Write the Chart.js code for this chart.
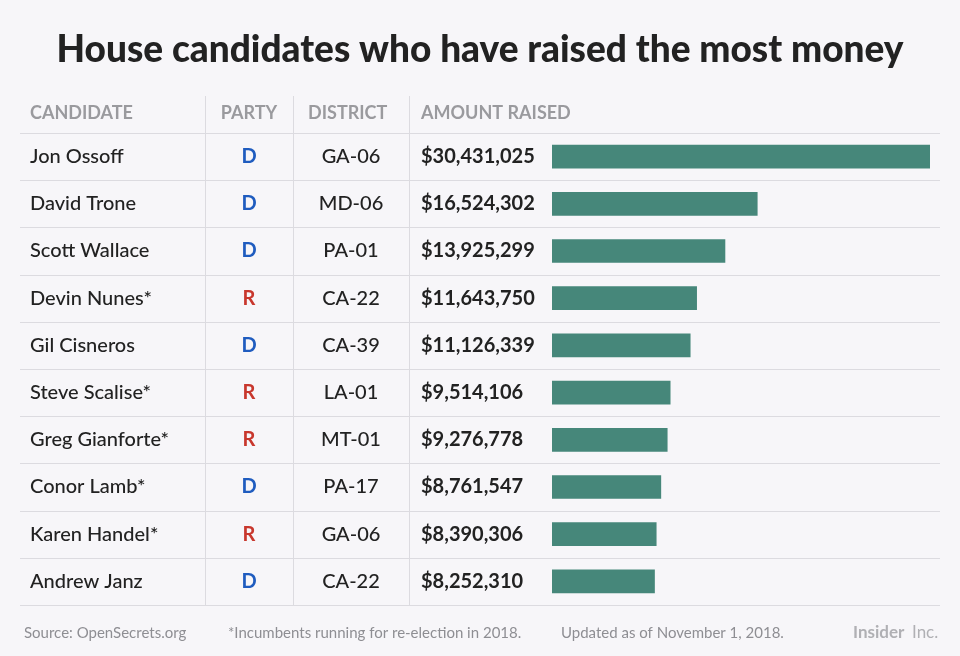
<!DOCTYPE html>
<html><head><meta charset="utf-8">
<script src="https://cdn.jsdelivr.net/npm/chart.js@4"></script>
<style>body{margin:0;background:#f7f6f9}canvas{display:block}</style>
</head><body>
<div style="width:960px;height:656px"><canvas id="chart"></canvas></div>
<script>
// data
const candidates = ["Jon Ossoff","David Trone","Scott Wallace","Devin Nunes*","Gil Cisneros","Steve Scalise*","Greg Gianforte*","Conor Lamb*","Karen Handel*","Andrew Janz"],
  parties = ["D","D","D","R","D","R","R","D","R","D"],
  districts = ["GA-06","MD-06","PA-01","CA-22","CA-39","LA-01","MT-01","PA-17","GA-06","CA-22"],
  amounts = [30431025,16524302,13925299,11643750,11126339,9514106,9276778,8761547,8390306,8252310];

const fmt = (n) => "$" + n.toLocaleString("en-US");
const FONT = "Lato, 'Open Sans', sans-serif";

const tablePlugin = {
  id: "table",
  beforeDraw(chart) {
    const ctx = chart.ctx, top = chart.chartArea.top, bottom = chart.chartArea.bottom;
    ctx.save();
    ctx.fillStyle = "#f7f6f9";
    ctx.fillRect(0, 0, chart.width, chart.height);
    ctx.strokeStyle = "#dcdbe0";
    ctx.lineWidth = 1;
    const step = (bottom - top) / candidates.length;
    for (let i = 0; i <= candidates.length; i++) {
      const ly = Math.round(top + i * step) + 0.5;
      ctx.beginPath(); ctx.moveTo(20, ly); ctx.lineTo(940, ly); ctx.stroke();
    }
    [205, 293, 409].forEach((x) => {
      ctx.beginPath(); ctx.moveTo(x + 0.5, 96); ctx.lineTo(x + 0.5, bottom); ctx.stroke();
    });
    ctx.restore();
  },
  afterDraw(chart) {
    const ctx = chart.ctx, y = chart.scales.y;
    ctx.save();
    ctx.textBaseline = "middle";
    ctx.fillStyle = "#222";
    ctx.textAlign = "center";
    ctx.font = "900 37px " + FONT;
    ctx.fillText("House candidates who have raised the most money", 480, 50);
    ctx.font = "bold 18px " + FONT;
    ctx.fillStyle = "#9a9a9e";
    ctx.textAlign = "left";
    ctx.fillText("CANDIDATE", 30, 113);
    ctx.fillText("DISTRICT", 308, 113);
    ctx.fillText("AMOUNT RAISED", 421, 113);
    ctx.textAlign = "center";
    ctx.fillText("PARTY", 249, 113);
    candidates.forEach((c, i) => {
      const cy = y.getPixelForValue(i);
      ctx.fillStyle = "#222";
      ctx.textAlign = "left";
      ctx.font = "500 20px " + FONT;
      ctx.fillText(c, 30, cy);
      ctx.font = "bold 20px " + FONT;
      ctx.fillText(fmt(amounts[i]), 421, cy);
      ctx.textAlign = "center";
      ctx.font = "500 20px " + FONT;
      ctx.fillText(districts[i], 351, cy);
      ctx.font = "bold 20px " + FONT;
      ctx.fillStyle = parties[i] === "D" ? "#1f5cbf" : "#c8372d";
      ctx.fillText(parties[i], 249, cy);
    });
    ctx.font = "15px " + FONT;
    ctx.fillStyle = "#8e8e93";
    ctx.textAlign = "left";
    ctx.fillText("Source: OpenSecrets.org", 24, 633);
    ctx.fillText("*Incumbents running for re-election in 2018.", 228, 633);
    ctx.fillText("Updated as of November 1, 2018.", 561, 633);
    ctx.font = "bold 17px " + FONT;
    ctx.fillStyle = "#b0b0b4";
    ctx.fillText("Insider", 853, 633);
    ctx.font = "17px " + FONT;
    ctx.fillText("Inc.", 912, 633);
    ctx.restore();
  }
};

new Chart(document.getElementById("chart"), {
  type: "bar",
  data: {
    labels: candidates,
    datasets: [{ data: amounts, backgroundColor: "#46877a", barThickness: 23, borderWidth: 0 }]
  },
  options: {
    indexAxis: "y",
    responsive: true,
    maintainAspectRatio: false,
    animation: false,
    layout: { padding: { left: 552, right: 30, top: 133, bottom: 51 } },
    plugins: { legend: { display: false }, tooltip: { enabled: false } },
    scales: {
      x: { display: false, min: 0, max: 30431025 },
      y: { display: false }
    }
  },
  plugins: [tablePlugin]
});
</script>
</body></html>
